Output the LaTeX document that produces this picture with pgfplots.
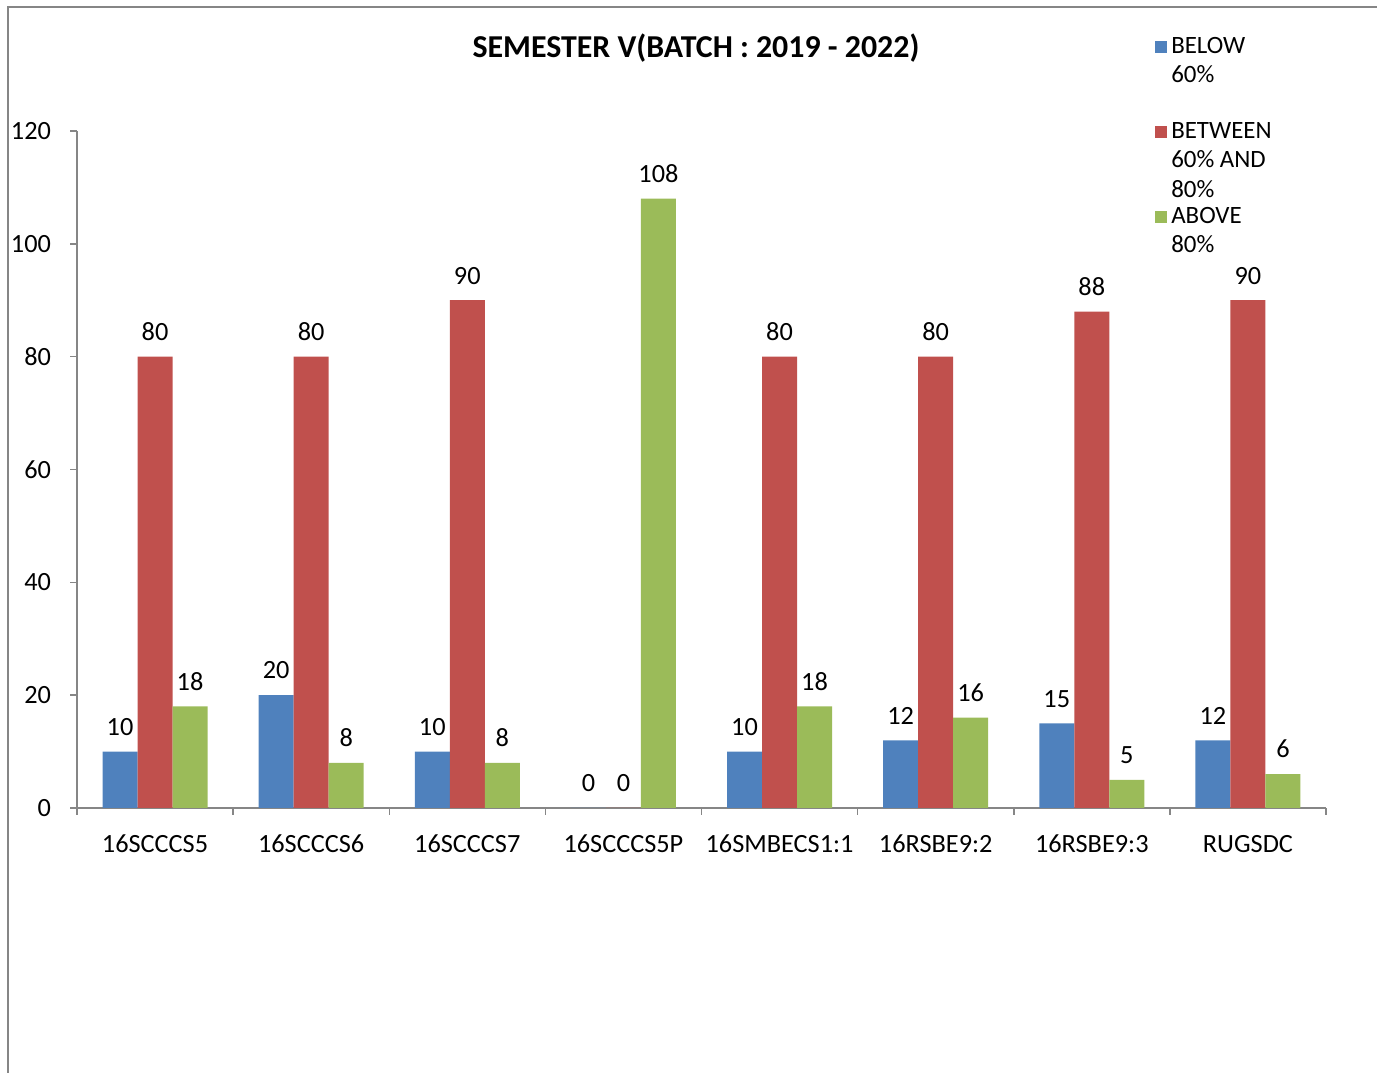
\documentclass[border=0pt]{standalone}
\usepackage{pgfplots}
\pgfplotsset{compat=1.18}
\usepackage{fontspec}
\setmainfont{Carlito}
\definecolor{cblue}{HTML}{4F81BD}
\definecolor{cred}{HTML}{C0504D}
\definecolor{cgreen}{HTML}{9BBB59}
\definecolor{axgray}{HTML}{868686}
\newcommand{\lent}[1]{\raisebox{0pt}[\height][0pt]{\parbox[t]{60bp}{\baselineskip=14.75bp #1}}}
\begin{document}
\begin{tikzpicture}[x=1bp,y=1bp]
\useasboundingbox (-38.5,-132.5) rectangle (650,404);
\draw[axgray, line width=1bp] (-34.5,-132.5) -- (-34.5,400.5) -- (650,400.5);
\begin{axis}[
  at={(0,0)}, anchor=south west,
  scale only axis, width=624.5bp, height=338.5bp,
  ybar, bar width=17.5bp,
  xmin=-0.5, xmax=7.5, ymin=0, ymax=120,
  axis x line*=bottom, axis y line*=left,
  axis line style={axgray, line width=0.75bp},
  ytick={0,20,...,120},
  xtick={0,...,7},
  xticklabels={16SCCCS5,16SCCCS6,16SCCCS7,16SCCCS5P,16SMBECS1:1,16RSBE9:2,16RSBE9:3,RUGSDC},
  minor xtick={-0.5,0.5,...,7.5},
  major x tick style={draw=none},
  tick style={axgray, line width=0.75bp},
  tick align=outside,
  major tick length=3.5bp, minor tick length=3.5bp,
  x tick label style={yshift=-6.5bp},
  y tick label style={xshift=-6bp},
  tick label style={font=\fontsize{13.2}{15}\selectfont},
  /pgf/number format/assume math mode=true,
  nodes near coords,
  every node near coord/.append style={font=\fontsize{13.2}{15}\selectfont, black, yshift=4.5bp},
  legend cell align=left,
  legend style={draw=none, fill=none, at={(0.863,1.145)}, anchor=north west,
    inner sep=0pt, row sep=29bp, font=\fontsize{12.5}{14}\selectfont,
    /tikz/every even column/.style={column sep=5bp}},
  legend image code/.code={\fill[#1,draw=none] (0bp,-3bp) rectangle (6bp,3bp);},
  clip=false,
]
\addplot[fill=cblue, draw=none, bar shift=-17.5bp] coordinates {(0,10) (1,20) (2,10) (3,0) (4,10) (5,12) (6,15) (7,12)};
\addplot[fill=cred, draw=none, bar shift=0bp] coordinates {(0,80) (1,80) (2,90) (3,0) (4,80) (5,80) (6,88) (7,90)};
\addplot[fill=cgreen, draw=none, bar shift=17.5bp] coordinates {(0,18) (1,8) (2,8) (3,108) (4,18) (5,16) (6,5) (7,6)};
\legend{\lent{BELOW\\60\%},\lent{BETWEEN\\60\% AND\\80\%},\lent{ABOVE\\80\%}}
\end{axis}
\node[font=\fontsize{16}{18}\selectfont\bfseries] at (309.5,380) {SEMESTER V(BATCH : 2019 - 2022)};
\end{tikzpicture}
\end{document}
